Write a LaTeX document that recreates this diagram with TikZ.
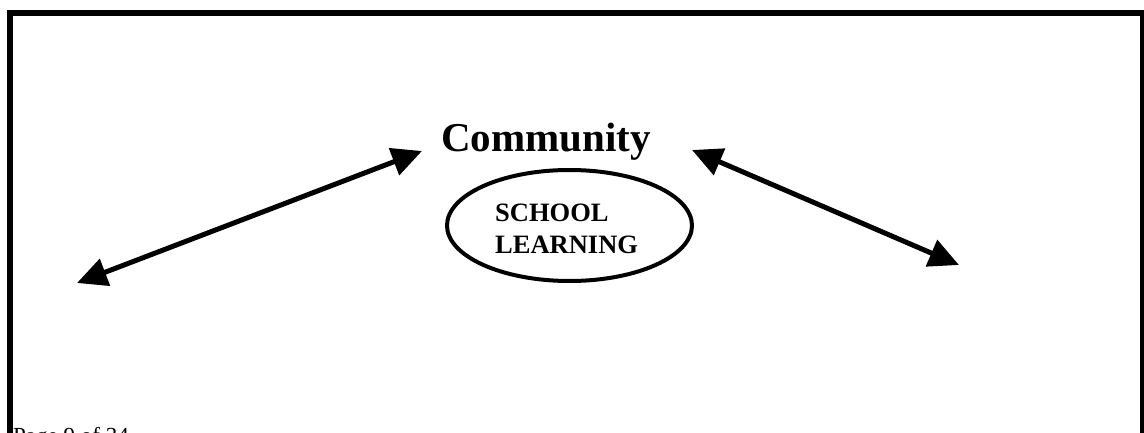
\documentclass[tikz,border=0pt]{standalone}
\usepackage{fontspec}
\setmainfont{Liberation Serif}
\usetikzlibrary{arrows.meta}
\tikzset{
  twoway/.style={line width=5pt, {Triangle[length=30pt,width=28pt]}-{Triangle[length=30pt,width=28pt]}, shorten <=0pt, shorten >=0pt},
  frame/.style={line width=6pt, line join=miter},
}
\begin{document}
\begin{tikzpicture}[x=1pt,y=-1pt]
\useasboundingbox (0,0) rectangle (1144,433);
\clip (0,0) rectangle (1144,433);
\fill[white] (0,0) rectangle (1144,433);
% frame
\draw[frame] (10,445) -- (10,13) -- (1142.5,13) -- (1142.5,445);
% title
\node[anchor=base, inner sep=0pt, font=\bfseries\fontsize{41}{49}\selectfont] (comm) at (546,152) {Community};
% ellipse
\draw[line width=4pt] (569.5,225.5) ellipse [x radius=122.5, y radius=55.5];
\node[inner sep=0pt] (school) at (569.5,225.5) {};
\node[anchor=base west, inner sep=0pt, font=\bfseries\fontsize{26.5}{31}\selectfont] (t1) at (495,222) {SCHOOL};
\node[anchor=base west, inner sep=0pt, font=\bfseries\fontsize{26.5}{31}\selectfont] (t2) at (495,253) {LEARNING};
% arrow ends
\coordinate (la) at (77,283);
\coordinate (lb) at (422,151);
\coordinate (ra) at (692,150);
\coordinate (rb) at (959,265);
\draw[twoway] (la) -- (lb);
\draw[twoway] (ra) -- (rb);
% footer
\node[anchor=base west, inner sep=0pt, font=\fontsize{23}{27}\selectfont] (page) at (13,443) {Page 9 of 34};
\end{tikzpicture}
\end{document}
